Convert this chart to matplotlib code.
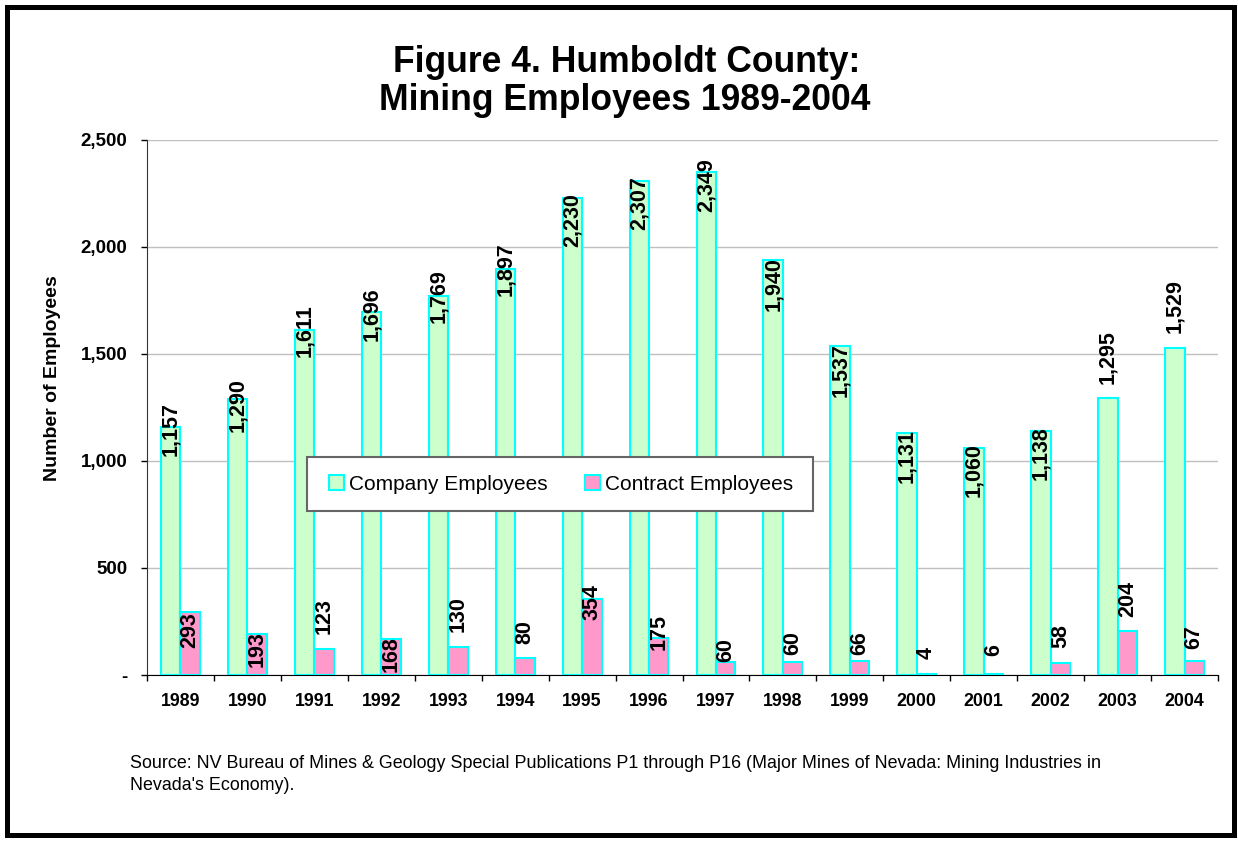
import matplotlib.pyplot as plt
import matplotlib.patches as mpatches
from matplotlib.ticker import FuncFormatter
import numpy as np

plt.rcParams['font.family'] = ['Liberation Sans', 'DejaVu Sans']

years = ['1989', '1990', '1991', '1992', '1993', '1994', '1995', '1996',
         '1997', '1998', '1999', '2000', '2001', '2002', '2003', '2004']
company = [1157, 1290, 1611, 1696, 1769, 1897, 2230, 2307,
           2349, 1940, 1537, 1131, 1060, 1138, 1295, 1529]
contract = [293, 193, 123, 168, 130, 80, 354, 175,
            60, 60, 66, 4, 6, 58, 204, 67]

# label nudges (pixels, label centre relative to bar top; + is up)
company_nudge = [-2, -6, 0, -2, 0, 0, -22, -22, -13, -24, -24, -23, -22, -22, 41, 42]
contract_nudge = [-18, -15, 33, -15, 33, 26, -3, 6, 12, 19, 18, 21, 24, 27, 32, 24]

GREEN = '#ccffcc'
PINK = '#ff99cc'
EDGE = '#00ffff'

W, H = 1238, 842
fig = plt.figure(figsize=(W / 100, H / 100), dpi=100)
ax = fig.add_axes([147 / W, 1 - 675 / H, (1218 - 147) / W, 535 / H])

x = np.arange(len(years))
w = 0.29
ax.bar(x - w / 2, company, width=w, color=GREEN, edgecolor=EDGE, linewidth=1.5,
       label='Company Employees', zorder=3)
ax.bar(x + w / 2, contract, width=w, color=PINK, edgecolor=EDGE, linewidth=1.5,
       label='Contract Employees', zorder=3)

px = 0.72  # points per pixel at 100 dpi
for i in range(len(years)):
    ax.annotate(f'{company[i]:,}', (x[i] - w / 2, company[i]),
                xytext=(0, company_nudge[i] * px), textcoords='offset points',
                rotation=90, ha='center', va='center', fontsize=15.5,
                fontweight='bold', zorder=4)
    ax.annotate(f'{contract[i]:,}', (x[i] + w / 2, contract[i]),
                xytext=(0, contract_nudge[i] * px), textcoords='offset points',
                rotation=90, ha='center', va='center', fontsize=15.5,
                fontweight='bold', zorder=4)

ax.set_xlim(-0.5, len(years) - 0.5)
ax.set_ylim(0, 2500)
ax.set_yticks(np.arange(0, 2501, 500))
ax.yaxis.set_major_formatter(FuncFormatter(lambda v, p: '-' if v == 0 else f'{int(v):,}'))
ax.grid(axis='y', color='#c0c0c0', linewidth=1, zorder=0)

ax.set_xticks(x)
ax.set_xticklabels(years, fontsize=12.8, fontweight='bold')
ax.set_xticks(np.arange(-0.5, len(years)), minor=True)
ax.tick_params(axis='x', which='major', length=0, pad=13)
ax.tick_params(axis='x', which='minor', length=4.3, width=1, color='black', direction='out')
ax.tick_params(axis='y', length=4.3, width=1, color='black', pad=10)
for lbl in ax.get_yticklabels():
    lbl.set_fontsize(13.5)
    lbl.set_fontweight('bold')

for s in ['top', 'right']:
    ax.spines[s].set_visible(False)
ax.spines['left'].set_color('#333333')
ax.spines['bottom'].set_color('black')
ax.set_axisbelow(True)

fig.text(53 / W, 1 - 378 / H, 'Number of Employees', rotation=90,
         ha='center', va='center', fontsize=14, fontweight='bold')

fig.text(627 / W, 1 - 62 / H, 'Figure 4. Humboldt County:', ha='center', va='center',
         fontsize=25.6, fontweight='bold')
fig.text(625 / W, 1 - 100 / H, 'Mining Employees 1989-2004', ha='center', va='center',
         fontsize=25.6, fontweight='bold')

# legend box drawn separately so the entries can sit inside with Excel-like margins
fig.patches.append(mpatches.Rectangle((307 / W, 1 - 511 / H), 506 / W, 54 / H,
                                      transform=fig.transFigure, facecolor='white',
                                      edgecolor='#666666', linewidth=1.5, zorder=2))
handles = [mpatches.Patch(facecolor=GREEN, edgecolor=EDGE, linewidth=1.5, label='Company Employees'),
           mpatches.Patch(facecolor=PINK, edgecolor=EDGE, linewidth=1.5, label='Contract Employees')]
leg = fig.legend(handles=handles, loc='center', ncol=2,
                 bbox_to_anchor=(329 / W, 1 - 511 / H, 464 / W, 54 / H),
                 mode='expand', fontsize=15, frameon=False,
                 handlelength=0.7, handleheight=0.7, handletextpad=0.25,
                 columnspacing=2.0, borderaxespad=0, borderpad=0)
leg.set_zorder(5)

fig.text(130 / W, 1 - 764 / H,
         'Source: NV Bureau of Mines & Geology Special Publications P1 through P16 '
         '(Major Mines of Nevada: Mining Industries in', ha='left', va='center', fontsize=12.9)
fig.text(130 / W, 1 - 786 / H, "Nevada's Economy).", ha='left', va='center', fontsize=12.9)

fig.patches.append(mpatches.Rectangle((7 / W, 7 / H), 1227 / W, 828 / H,
                                      transform=fig.transFigure, fill=False,
                                      edgecolor='black', linewidth=3.6))

fig.savefig('out.png', dpi=100)
